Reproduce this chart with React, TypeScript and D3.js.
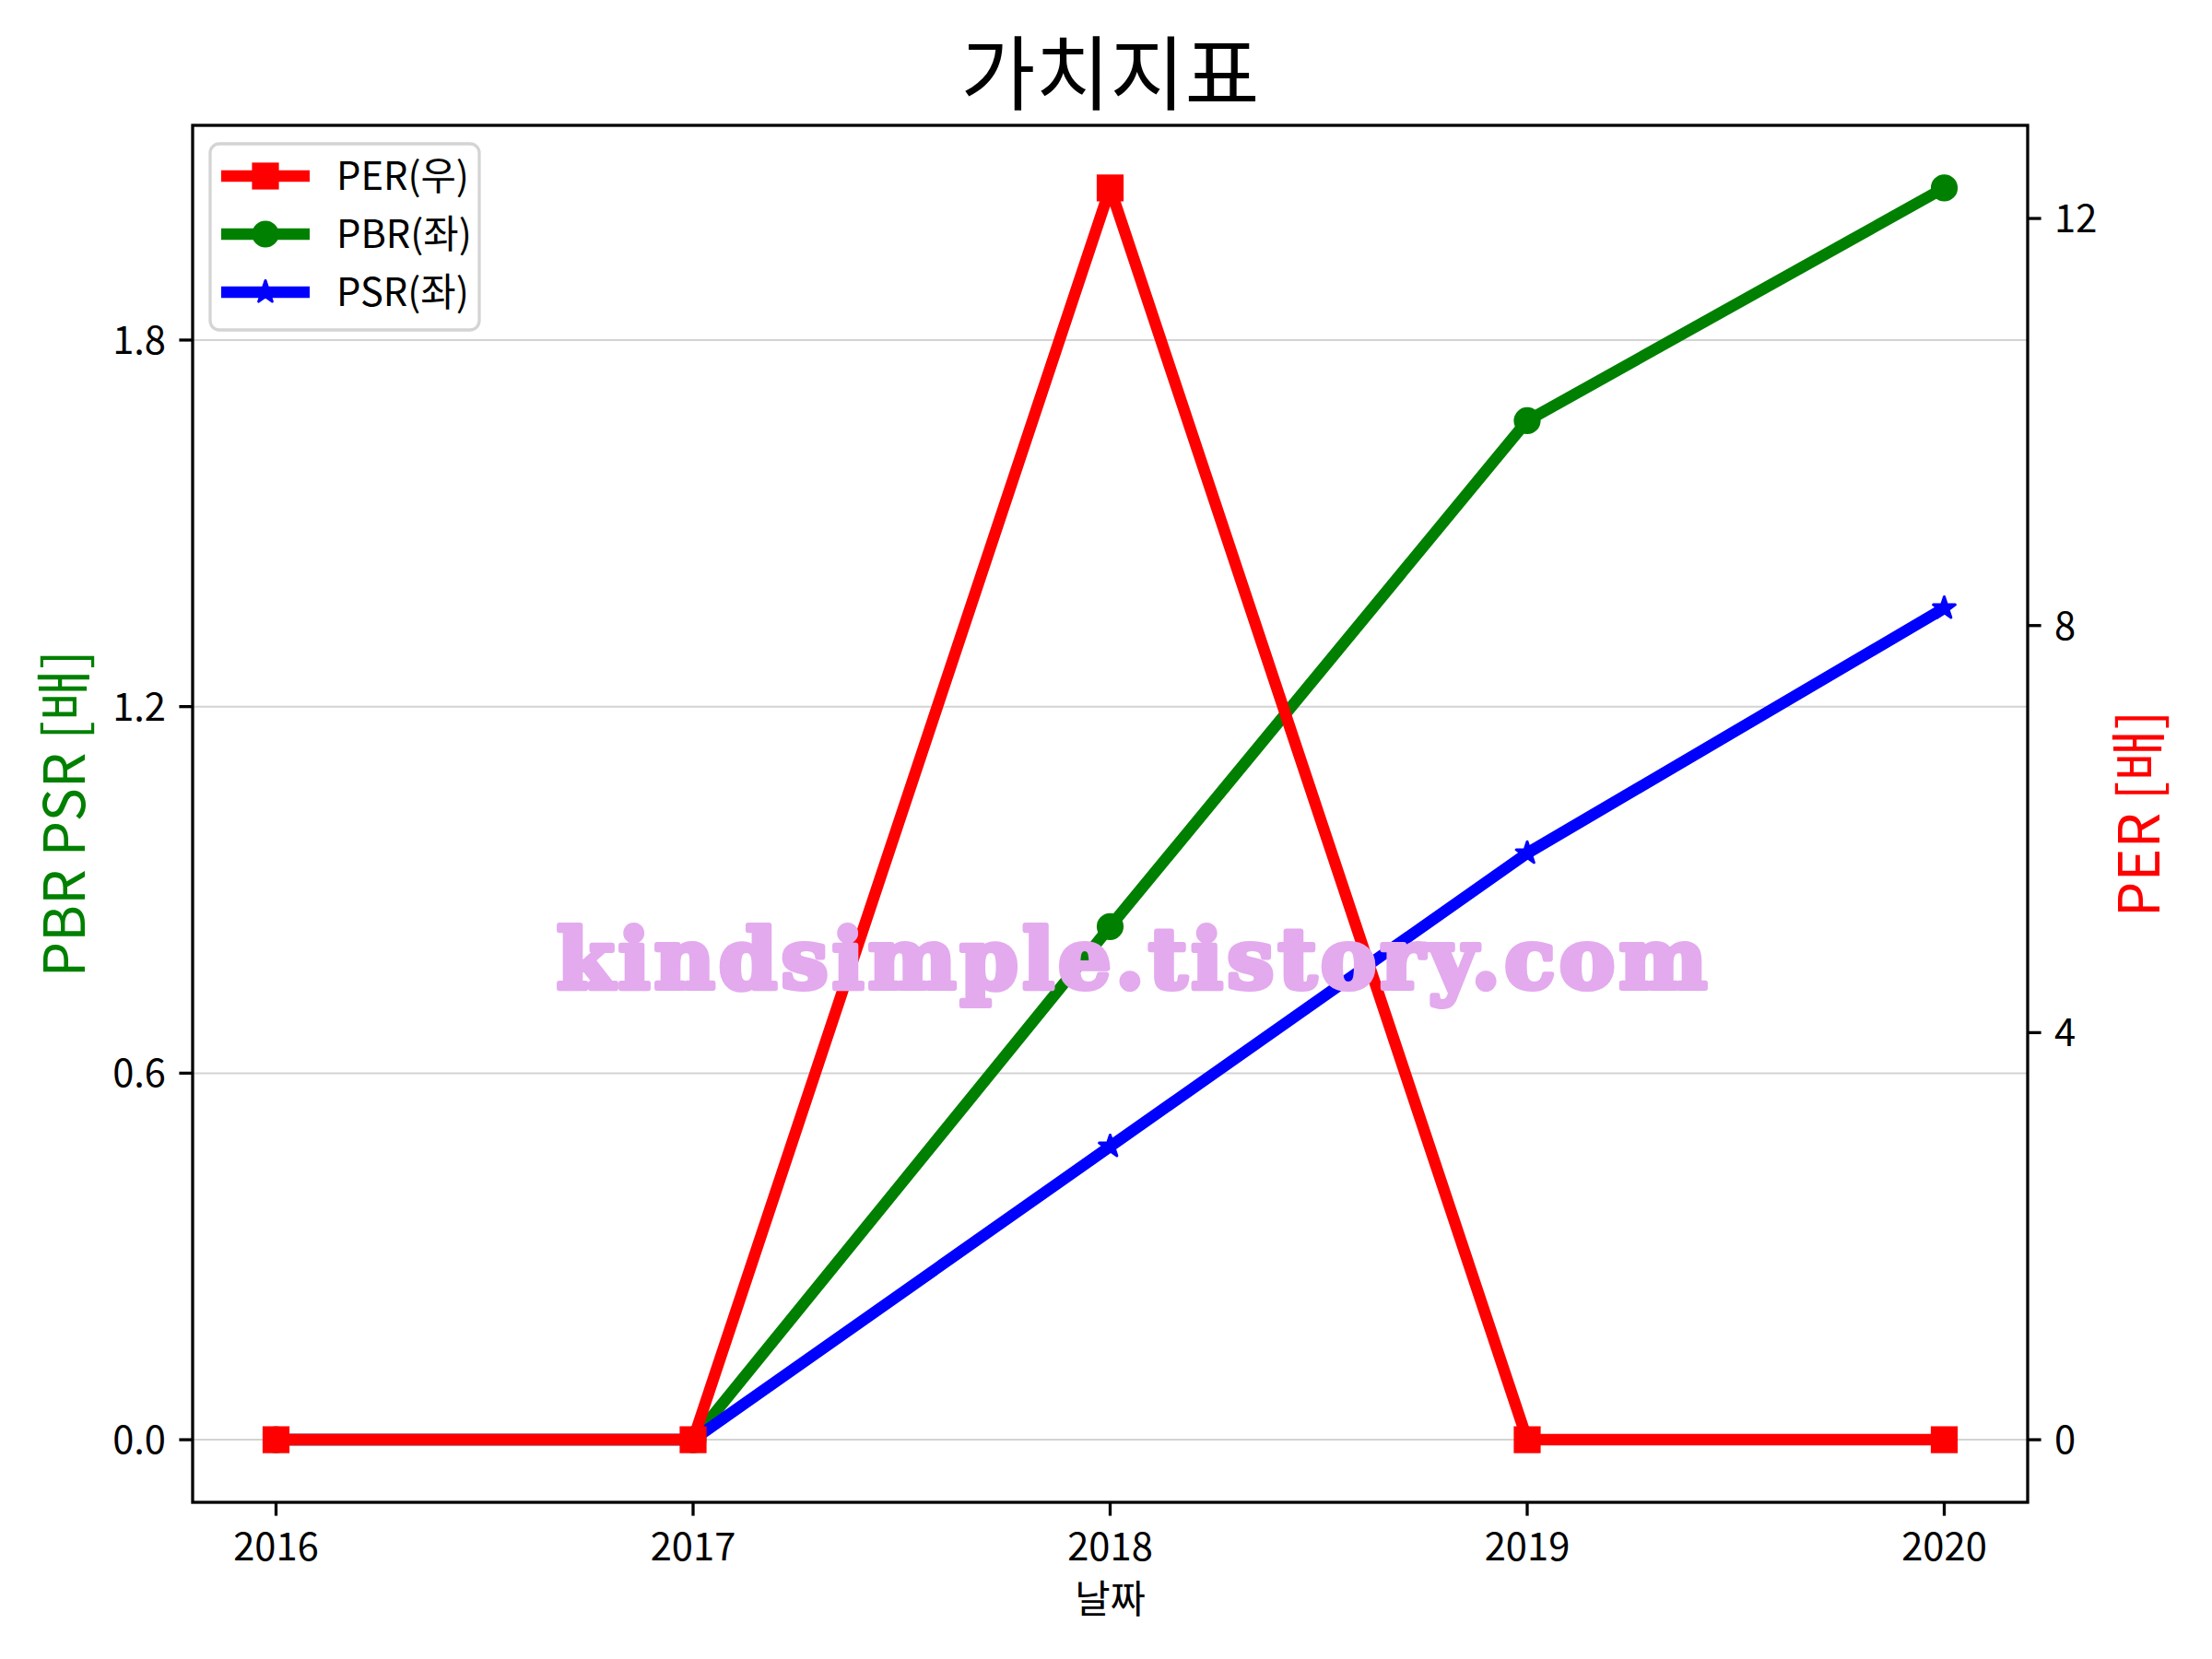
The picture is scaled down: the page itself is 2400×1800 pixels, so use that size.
import React from "react";
import * as d3 from "d3";

const years = [2016, 2017, 2018, 2019, 2020];
const perValues = [0, 0, 12.3, 0, 0];
const pbrValues = [0, 0, 0.84, 1.668, 2.049];
const psrValues = [0, 0, 0.48, 0.96, 1.361];
const leftTicks = [0.0, 0.6, 1.2, 1.8];
const rightTicks = [0, 4, 8, 12];
const titleText = "가치지표";
const xLabel = "날짜";
const leftLabel = "PBR PSR [배]";
const rightLabel = "PER [배]";
const legendLabels = ["PER(우)", "PBR(좌)", "PSR(좌)"];
const watermark = "kindsimple.tistory.com";

const W = 2400;
const H = 1800;
const L = 209, R = 2200, T = 136, B = 1630;
const FONT = "'Noto Sans CJK KR', 'Noto Sans', sans-serif";

function starPath(cx: number, cy: number, r: number) {
  const ri = r * 0.381966;
  const pts: string[] = [];
  for (let i = 0; i < 10; i++) {
    const a = -Math.PI / 2 + (i * Math.PI) / 5;
    const rr = i % 2 === 0 ? r : ri;
    pts.push(`${cx + rr * Math.cos(a)},${cy + rr * Math.sin(a)}`);
  }
  return "M" + pts.join("L") + "Z";
}

function Marker({ kind, cx, cy, color }: { kind: string; cx: number; cy: number; color: string }) {
  if (kind === "s") {
    return <rect x={cx - 12.5} y={cy - 12.5} width={25} height={25} fill={color} stroke={color} strokeWidth={4.2} />;
  }
  if (kind === "o") {
    return <circle cx={cx} cy={cy} r={12.5} fill={color} stroke={color} strokeWidth={4.2} />;
  }
  return <path d={starPath(cx, cy, 12.5)} fill={color} stroke={color} strokeWidth={3} strokeLinejoin="round" />;
}

export default function App() {
  const x = d3.scaleLinear().domain([2015.8, 2020.2]).range([L, R]);
  const pbrMax = d3.max(pbrValues) as number;
  const perMax = d3.max(perValues) as number;
  const yL = d3.scaleLinear().domain([-0.05 * pbrMax, 1.05 * pbrMax]).range([B, T]);
  const yR = d3.scaleLinear().domain([-0.05 * perMax, 1.05 * perMax]).range([B, T]);

  const lineL = d3.line<number>().x((_, i) => x(years[i])).y((d) => yL(d));
  const lineR = d3.line<number>().x((_, i) => x(years[i])).y((d) => yR(d));

  const series = [
    { vals: pbrValues, color: "#008000", kind: "o", line: lineL, y: yL },
    { vals: psrValues, color: "#0000ff", kind: "*", line: lineL, y: yL },
  ];

  const legendItems = [
    { label: legendLabels[0], color: "#ff0000", kind: "s" },
    { label: legendLabels[1], color: "#008000", kind: "o" },
    { label: legendLabels[2], color: "#0000ff", kind: "*" },
  ];

  return (
    <svg width={W} height={H} style={{ position: "absolute", left: 0, top: 0, background: "#fff" }} fontFamily={FONT}>
      <rect x={0} y={0} width={W} height={H} fill="#fff" />
      {/* grid */}
      {leftTicks.map((t) => (
        <line key={"g" + t} x1={L} x2={R} y1={yL(t)} y2={yL(t)} stroke="#d3d3d3" strokeWidth={2} />
      ))}
      {/* left series */}
      {series.map((s, si) => (
        <g key={si}>
          <path d={s.line(s.vals) as string} fill="none" stroke={s.color} strokeWidth={12.5} strokeLinejoin="round" strokeLinecap="butt" />
          {s.vals.map((v, i) => (
            <Marker key={i} kind={s.kind} cx={x(years[i])} cy={s.y(v)} color={s.color} />
          ))}
        </g>
      ))}
      {/* right series */}
      <path d={lineR(perValues) as string} fill="none" stroke="#ff0000" strokeWidth={12.5} strokeLinejoin="round" />
      {perValues.map((v, i) => (
        <Marker key={i} kind="s" cx={x(years[i])} cy={yR(v)} color="#ff0000" />
      ))}
      {/* frame */}
      <rect x={L} y={T} width={R - L} height={B - T} fill="none" stroke="#000" strokeWidth={3.3} />
      {/* x ticks */}
      {years.map((yr) => (
        <g key={yr}>
          <line x1={x(yr)} x2={x(yr)} y1={B} y2={B + 14.6} stroke="#000" strokeWidth={3.3} />
          <text x={x(yr)} y={1693} fontSize={41.7} textAnchor="middle" fill="#000">{yr}</text>
        </g>
      ))}
      {/* left ticks */}
      {leftTicks.map((t) => (
        <g key={"l" + t}>
          <line x1={L - 14.6} x2={L} y1={yL(t)} y2={yL(t)} stroke="#000" strokeWidth={3.3} />
          <text x={L - 29} y={yL(t)} dy="0.36em" fontSize={41.7} textAnchor="end" fill="#000">{d3.format(".1f")(t)}</text>
        </g>
      ))}
      {/* right ticks */}
      {rightTicks.map((t) => (
        <g key={"r" + t}>
          <line x1={R} x2={R + 14.6} y1={yR(t)} y2={yR(t)} stroke="#000" strokeWidth={3.3} />
          <text x={R + 29} y={yR(t)} dy="0.36em" fontSize={41.7} textAnchor="start" fill="#000">{t}</text>
        </g>
      ))}
      {/* labels */}
      <text x={(L + R) / 2} y={112} fontSize={88} textAnchor="middle" fill="#000">{titleText}</text>
      <text x={(L + R) / 2} y={1750} fontSize={41.7} textAnchor="middle" fill="#000">{xLabel}</text>
      <text transform={`translate(92, ${(T + B) / 2}) rotate(-90)`} fontSize={61} textAnchor="middle" fill="#008000">{leftLabel}</text>
      <text transform={`translate(2343, ${(T + B) / 2}) rotate(-90)`} fontSize={61} textAnchor="middle" fill="#ff0000">{rightLabel}</text>
      {/* legend */}
      <rect x={228} y={156} width={292} height={202} rx={10} fill="#fff" fillOpacity={0.8} stroke="#d4d4d4" strokeWidth={3.3} />
      {legendItems.map((it, i) => {
        const cy = 191 + i * 63;
        return (
          <g key={it.label}>
            <line x1={240} x2={336} y1={cy} y2={cy} stroke={it.color} strokeWidth={12.5} />
            <Marker kind={it.kind} cx={288} cy={cy} color={it.color} />
            <text x={365} y={cy + 14.5} fontSize={41.7} fill="#000">{it.label}</text>
          </g>
        );
      })}
      {/* watermark */}
      <text x={604} y={1072} fontSize={90} fontWeight="bold" fontFamily="'DejaVu Serif', serif" fill="#e3aaee" stroke="#e3aaee" strokeWidth={6} strokeLinejoin="round" textLength={1248} lengthAdjust="spacing">{watermark}</text>
    </svg>
  );
}
